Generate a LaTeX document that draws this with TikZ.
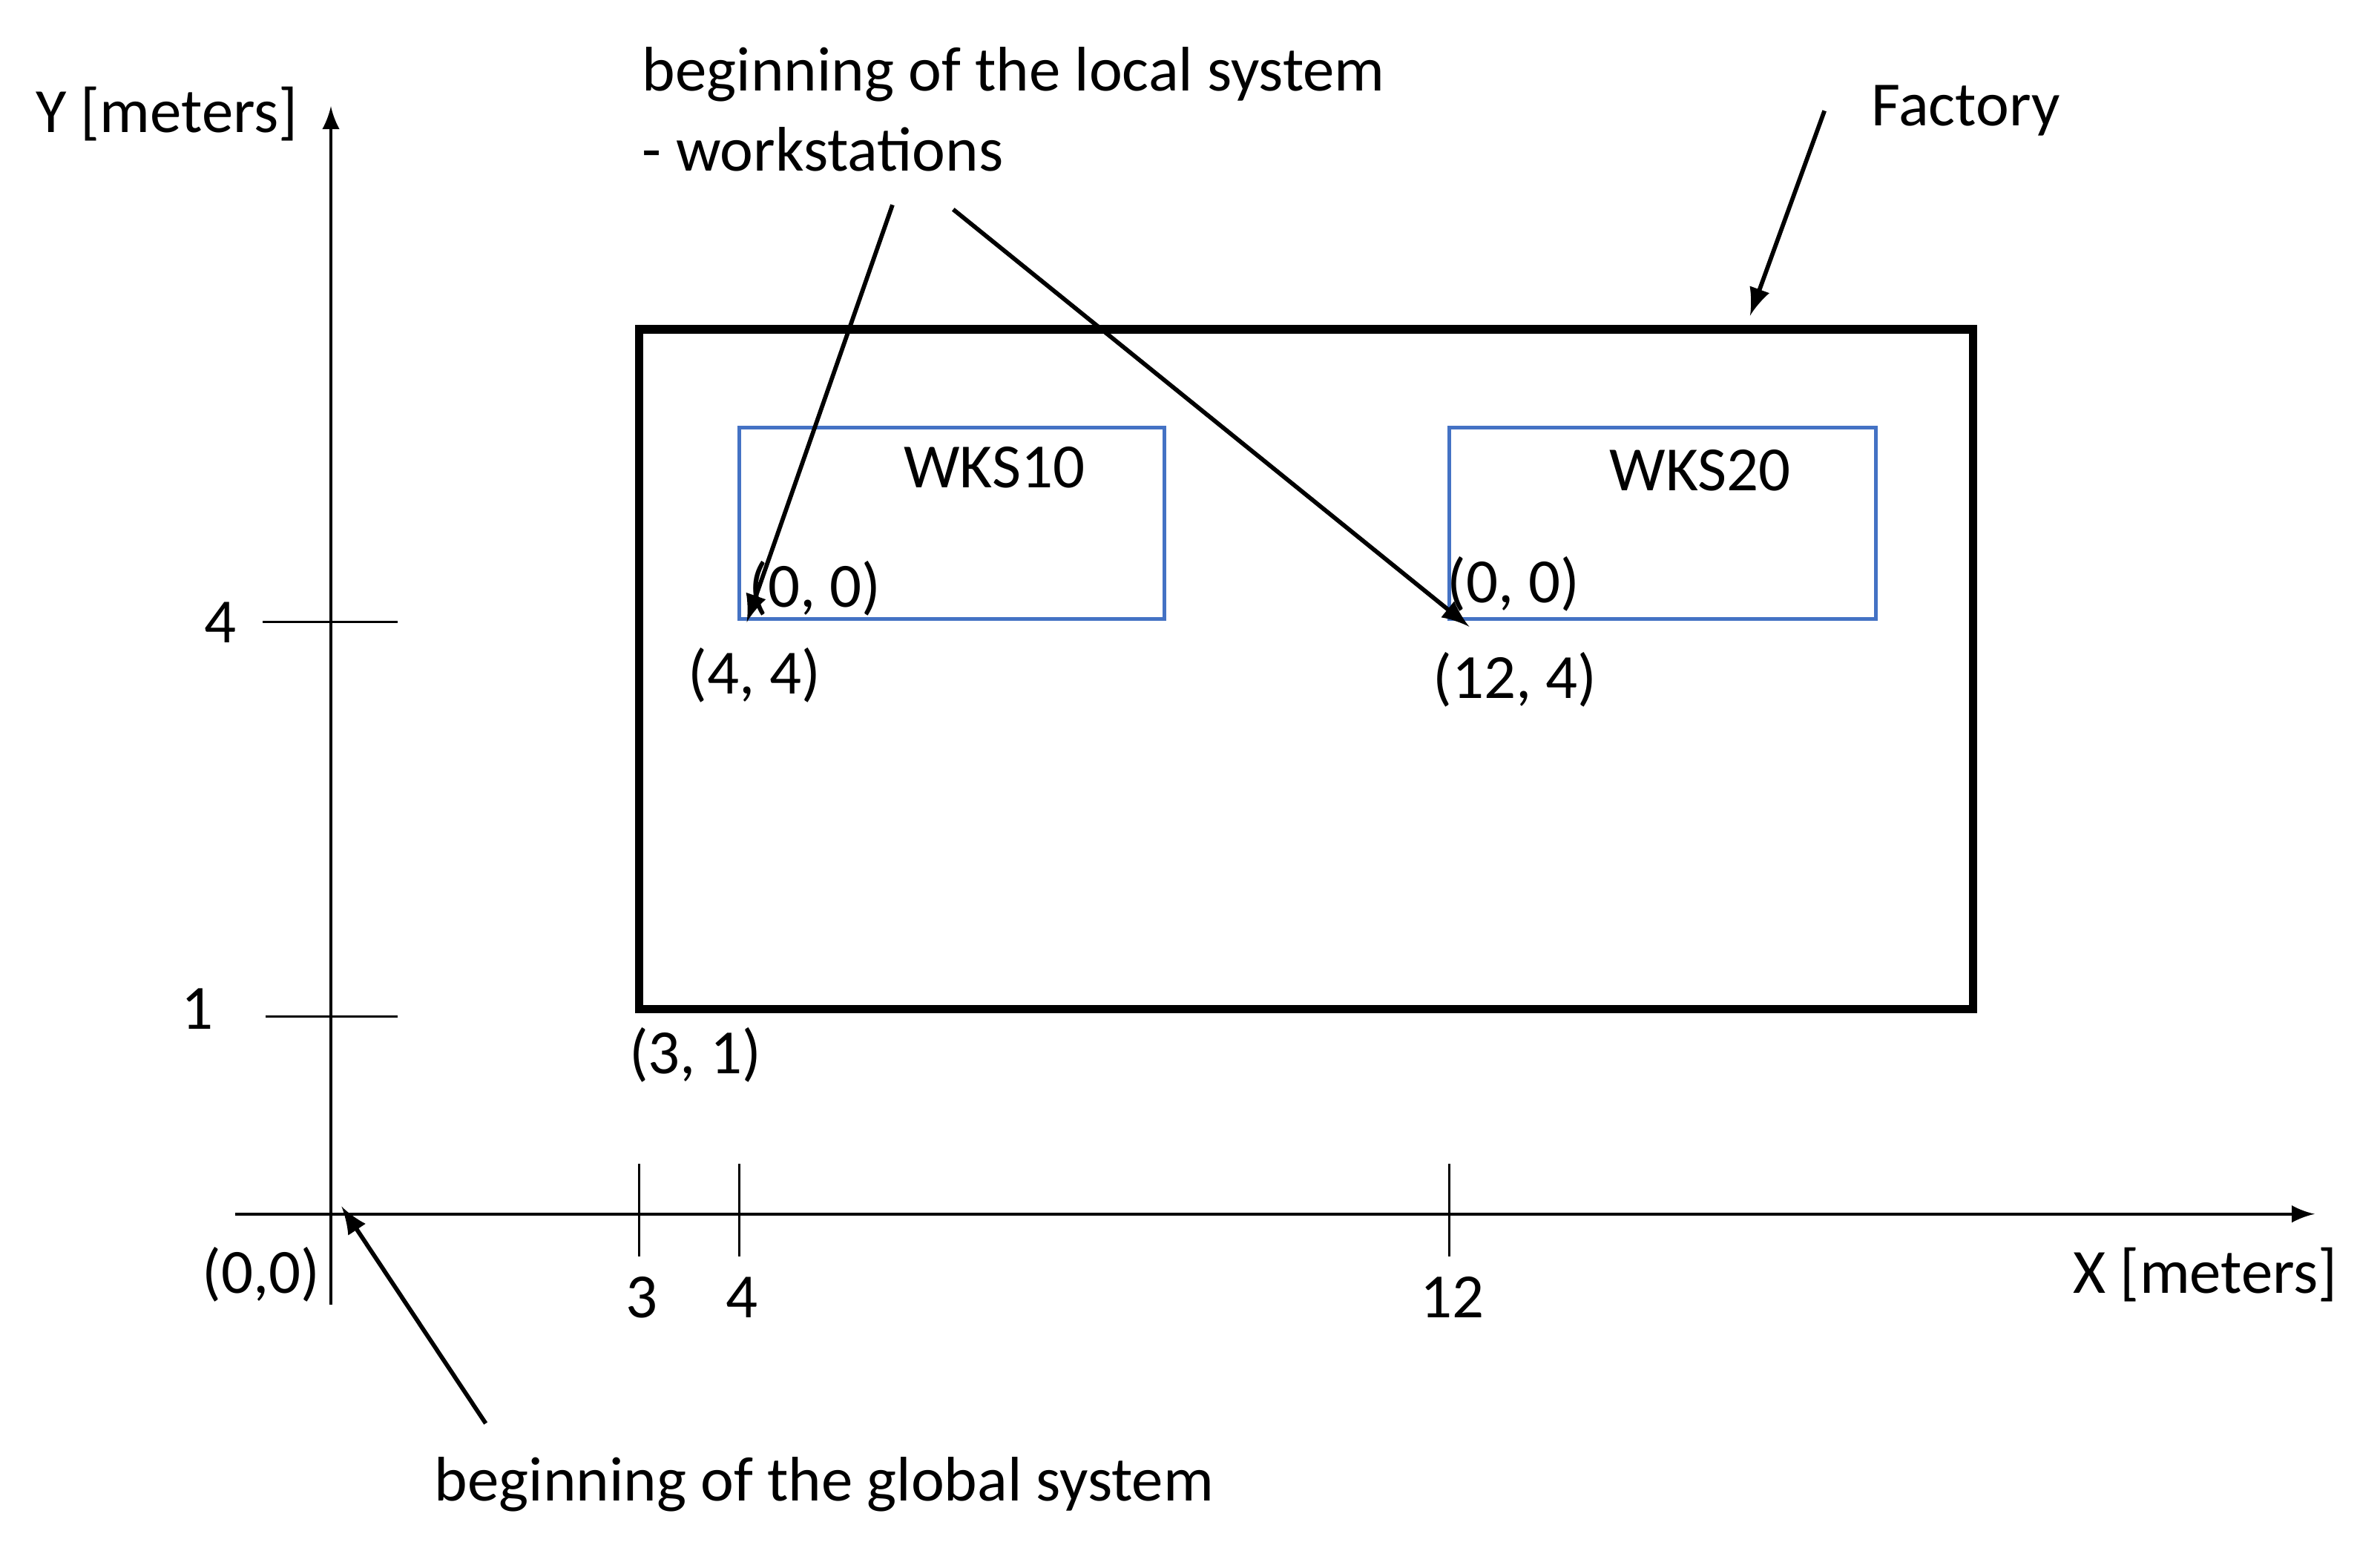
\documentclass[tikz,border=0pt]{standalone}
\usepackage{fontspec}
\setmainfont{Carlito}
\usetikzlibrary{positioning}
\tikzset{lbl/.style={font=\fontsize{11.8}{15}\selectfont,inner sep=1pt},
  wks/.style={draw={rgb,255:red,68;green,114;blue,196},line width=0.7pt},
  pointer/.style={-latex,line width=0.8pt}}
\begin{document}
\begin{tikzpicture}[x=0.01cm,y=-0.01cm]
\useasboundingbox (0,0) rectangle (1568,1018);
% axes
\coordinate (xs) at (155,800); \coordinate (xe) at (1525,800);
\coordinate (ys) at (218,860); \coordinate (ye) at (218,70);
\draw[-latex,line width=0.5pt] (xs) -- (xe);
\draw[-latex,line width=0.5pt] (ys) -- (ye);
\node[lbl] (ylab) at (110,75) {Y [meters]};
\node[lbl] (xlab) at (1453,840) {X [meters]};
\node[lbl] (orig) at (172,840) {(0,0)};
% ticks
\draw (173,410) -- (262,410); \node[lbl] (t4) at (145,410) {4};
\draw (175,670) -- (262,670); \node[lbl] (t1) at (130,665) {1};
\foreach \x/\t in {421/3,487/4,955/12}{
  \draw (\x,767) -- (\x,828);
  \node[lbl] at (\x+2,855) {\t};}
% factory
\draw[line width=1.6pt] (421,217) rectangle (1300,665);
\draw[wks] (487,282) rectangle (767,408);
\draw[wks] (955,282) rectangle (1236,408);
\node[lbl] (w10) at (655,308) {WKS10};
\node[lbl] (w20) at (1120,310) {WKS20};
\node[lbl] (l10) at (537,388) {(0, 0)};
\node[lbl] (l20) at (997,385) {(0, 0)};
\node[lbl] (g10) at (497,445) {(4, 4)};
\node[lbl] (g20) at (998,448) {(12, 4)};
\node[lbl] (g0) at (458,695) {(3, 1)};
% labels and pointers
\node[lbl,align=left,anchor=west] (loc) at (419,72) {beginning of the local system\\- workstations};
\node[lbl] (fac) at (1295,73) {Factory};
\node[lbl] (glob) at (543,978) {beginning of the global system};
\coordinate (p1) at (492,410); \coordinate (p2) at (968,413);
\draw[pointer] (588,135) -- (p1);
\draw[pointer] (628,138) -- (p2);
\draw[pointer] (1202,73) -- (1153,208);
\draw[pointer] (320,938) -- (225,795);
\end{tikzpicture}
\end{document}
